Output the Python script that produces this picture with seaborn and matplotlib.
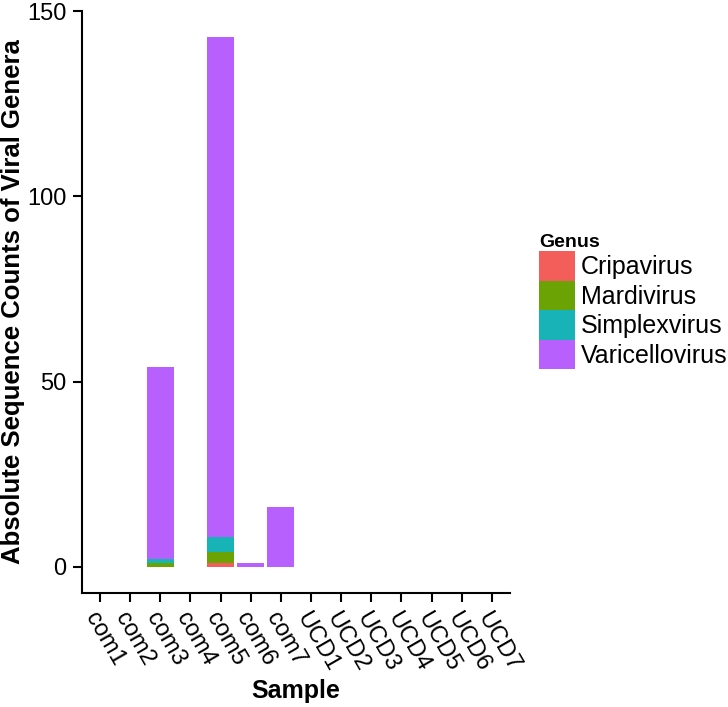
import pandas as pd
import seaborn as sns
import matplotlib
matplotlib.use("Agg")
import matplotlib.pyplot as plt

samples = ["com1", "com2", "com3", "com4", "com5", "com6", "com7",
           "UCD1", "UCD2", "UCD3", "UCD4", "UCD5", "UCD6", "UCD7"]
genera = ["Cripavirus", "Mardivirus", "Simplexvirus", "Varicellovirus"]
cripavirus = [0, 0, 0, 0, 1, 0, 0, 0, 0, 0, 0, 0, 0, 0]
mardivirus = [0, 0, 1, 0, 3, 0, 0, 0, 0, 0, 0, 0, 0, 0]
simplexvirus = [0, 0, 1, 0, 4, 0, 0, 0, 0, 0, 0, 0, 0, 0]
varicellovirus = [0, 0, 52, 0, 135, 1, 16, 0, 0, 0, 0, 0, 0, 0]
colors = ["#F35E5A", "#6BA204", "#17B3B7", "#B760FE"]

counts = [cripavirus, mardivirus, simplexvirus, varicellovirus]
rows = []
for g, vals in zip(genera, counts):
    for s, v in zip(samples, vals):
        rows.append({"Sample": s, "Genus": g, "Count": v})
df = pd.DataFrame(rows)

sns.set_theme(style="ticks")
plt.rcParams["font.family"] = ["Liberation Sans", "DejaVu Sans"]
plt.rcParams["text.color"] = "black"
plt.rcParams["axes.labelcolor"] = "black"

fig = plt.figure(figsize=(7.28, 7.07), dpi=100)
ax = fig.add_axes([0.1126, 0.1612, 0.5879, 0.8235])

# seaborn stacks the first hue level on top, so reverse to get ggplot order
pal = dict(zip(genera, colors))
sns.histplot(data=df, x="Sample", weights="Count", hue="Genus",
             hue_order=genera[::-1], multiple="stack", discrete=True,
             shrink=0.9, palette=pal, alpha=1, linewidth=0, ax=ax)

ax.set_xlim(-0.6, 13.6)
ax.set_ylim(-7.15, 150.15)
ax.set_yticks([0, 50, 100, 150])
sns.despine(ax=ax)
for sp in ["left", "bottom"]:
    ax.spines[sp].set_linewidth(1.5)
    ax.spines[sp].set_color("black")
ax.tick_params(length=6.5, width=1.5, color="black", labelsize=17,
               labelcolor="black", pad=4.5)
plt.setp(ax.get_xticklabels(), rotation=-60, ha="left", va="top",
         rotation_mode="anchor")
ax.set_xlabel("Sample", fontsize=18, fontweight="bold", labelpad=3,
              color="black")
ax.set_ylabel("Absolute Sequence Counts of Viral Genera", fontsize=18.5,
              fontweight="bold", labelpad=2, color="black")

old = ax.get_legend()
handles = old.legend_handles[::-1]
ax.legend(handles, genera, title="Genus", loc="center left",
          bbox_to_anchor=(1.068, 0.5), frameon=False, fontsize=18,
          handlelength=1.44, handleheight=1.44, labelspacing=0,
          handletextpad=0.24, borderaxespad=0, borderpad=0,
          labelcolor="black")
leg = ax.get_legend()
leg.get_title().set_fontweight("bold")
leg.get_title().set_fontsize(14)
leg.get_title().set_color("black")
leg._legend_box.align = "left"

fig.savefig("out.png", dpi=100)
